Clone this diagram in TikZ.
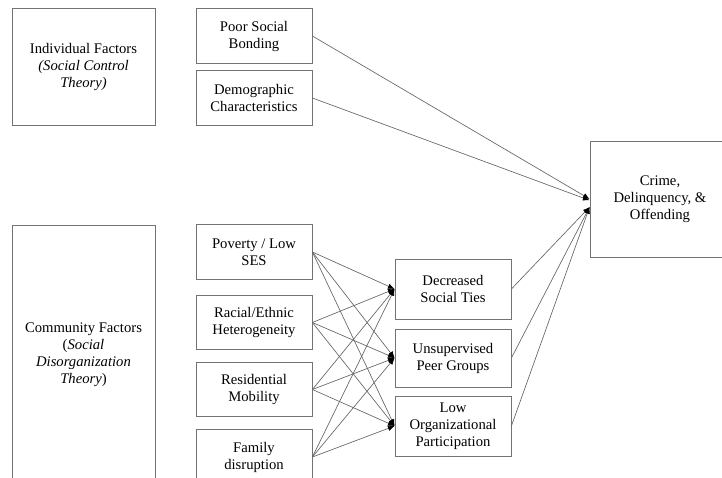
\documentclass[tikz,border=0pt]{standalone}
\usepackage{fontspec}
\setmainfont{Liberation Serif}
\usetikzlibrary{arrows.meta,positioning}

\begin{document}
\begin{tikzpicture}[x=0.75pt,y=-0.75pt]
  % Colors
  \colorlet{boxcolor}{black!55}
  \colorlet{linkcolor}{black!60}

  % Styles
  \tikzstyle{factor}=[draw=boxcolor,line width=0.6pt,align=center,inner sep=2pt,
    font=\fontsize{11}{12.75}\selectfont]
  \tikzstyle{theory box}=[factor,minimum width=107.25pt]
  \tikzstyle{small box}=[factor,minimum width=87pt,minimum height=41pt]
  \tikzstyle{link}=[draw=linkcolor,line width=0.5pt,
    -{Latex[length=5pt,width=4pt,color=black]}]

  % Frame
  \useasboundingbox (0,0) rectangle (722,478);
  \clip (0,0) rectangle (722,478);

  % Theories
  \node[theory box,minimum height=87.75pt] (indiv) at (83.5,66.5)
    {Individual Factors\\\textit{(Social Control}\\\textit{Theory)}};
  \node[theory box,minimum height=195pt] (comm) at (83.5,355)
    {Community Factors\\(\textit{Social}\\\textit{Disorganization}\\\textit{Theory})};

  % Individual factors
  \node[small box] (bond) at (254,36) {Poor Social\\Bonding};
  \node[small box] (demo) at (254,98) {Demographic\\Characteristics};

  % Community factors
  \node[small box] (pov) at (254,252) {Poverty / Low\\SES};
  \node[small box] (race) at (254,322.5) {Racial/Ethnic\\Heterogeneity};
  \node[small box] (resid) at (254,389.5) {Residential\\Mobility};
  \node[small box] (fam) at (254,457) {Family\\disruption};

  % Mediators
  \node[small box,minimum height=45pt] (ties) at (453,289) {Decreased\\Social Ties};
  \node[small box,minimum height=43.5pt] (peer) at (453,358) {Unsupervised\\Peer Groups};
  \node[small box,minimum height=45pt] (org) at (453,426) {Low\\Organizational\\Participation};

  % Outcome
  \node[factor,minimum width=105pt,minimum height=87pt] (crime) at (660,199)
    {Crime,\\Delinquency, \&\\Offending};

  % The graphic
  \draw[link] (bond.east) -- (crime.west);
  \draw[link] (demo.east) -- ([yshift=-1pt]crime.west);
  \foreach \s in {pov,race,resid,fam}
    \foreach \t in {ties,peer,org}
      \draw[link] (\s.east) -- (\t.west);
  \foreach \t in {ties,peer,org}
    \draw[link] (\t.east) -- ([yshift=-6pt]crime.west);

\end{tikzpicture}
\end{document}
